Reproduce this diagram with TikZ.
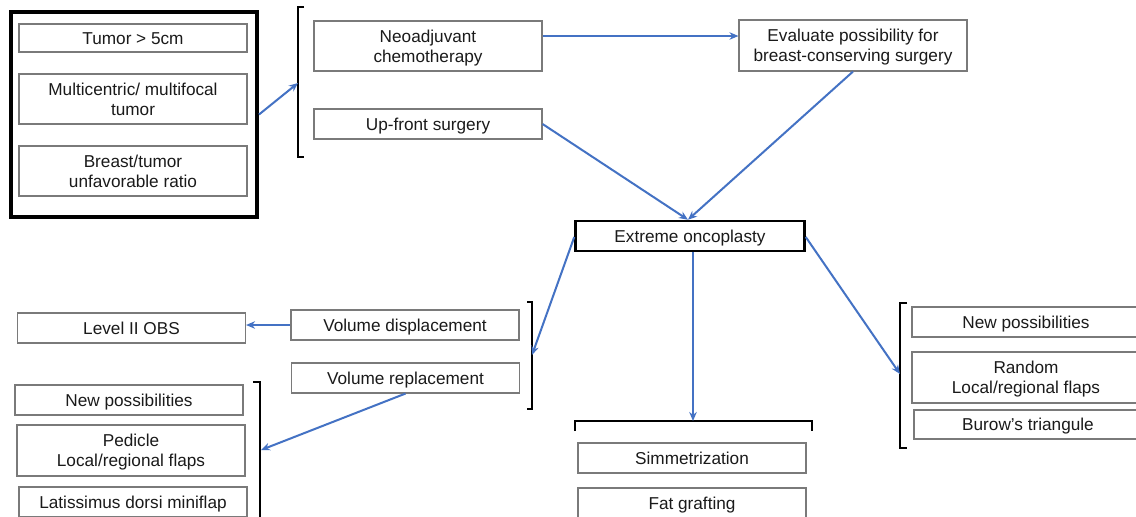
\documentclass[tikz,border=0pt]{standalone}
\usepackage{fontspec}
\setmainfont{Liberation Sans}
\usetikzlibrary{arrows.meta,calc}
\definecolor{boxgray}{HTML}{7A7A7A}
\definecolor{textcol}{HTML}{1A1A1A}
\definecolor{arrblue}{HTML}{4472C4}
\newcommand{\bxt}[1]{\raisebox{-2pt}[\height][\depth]{\begin{tabular}{@{}c@{}}#1\end{tabular}}}
\begin{document}
\begin{tikzpicture}[x=1pt,y=-1pt,
  box/.style={draw=boxgray,line width=1.1pt,minimum width=228pt,inner sep=0pt,
    font=\fontsize{17.2}{20}\selectfont,text=textcol},
  arr/.style={draw=arrblue,line width=2pt,-{Stealth[length=9pt,width=7.5pt]}},
  brk/.style={draw=black,line width=2.5pt}]
\useasboundingbox (0,0) rectangle (1136,517);
\clip (0,0) rectangle (1136,517);
\fill[white] (0,0) rectangle (1136,517);

% top-left group
\node[draw=black,line width=4pt,minimum width=246.5pt,minimum height=205pt,inner sep=0pt] (outer) at (133.75,114.5) {};
\node[box,minimum height=28pt] (t1) at (133,38) {\bxt{Tumor > 5cm}};
\node[box,minimum height=50pt] (t2) at (133,99) {\bxt{Multicentric/ multifocal\\tumor}};
\node[box,minimum height=50pt] (t3) at (133,171) {\bxt{Breast/tumor\\unfavorable ratio}};

% top middle
\node[box,minimum height=50pt] (neo) at (428,46) {\bxt{Neoadjuvant\\chemotherapy}};
\node[box,minimum height=30pt] (up) at (428,124) {\bxt{Up-front surgery}};
\node[box,minimum height=51pt] (eval) at (853,45.5) {\bxt{Evaluate possibility for\\breast-conserving surgery}};

% center
\node[box,draw=black,line width=2.5pt,minimum width=229pt,minimum height=30pt] (ext) at (690,236) {\bxt{Extreme oncoplasty}};

% left middle
\node[box,minimum height=30pt] (vd) at (405,325) {\bxt{Volume displacement}};
\node[box,minimum height=30pt] (vr) at (405.5,378) {\bxt{Volume replacement}};
\node[box,minimum height=30pt] (lvl) at (131.5,328) {\bxt{Level II OBS}};

% left bottom
\node[box,minimum height=30pt] (np1) at (129,400) {\bxt{New possibilities}};
\node[box,minimum height=51pt] (ped) at (131,450.5) {\bxt{Pedicle\\Local/regional flaps}};
\node[box,minimum height=30pt] (lat) at (133,502) {\bxt{Latissimus dorsi miniflap}};

% bottom center
\node[box,minimum height=30pt] (sim) at (692,458) {\bxt{Simmetrization}};
\node[box,minimum height=30pt] (fat) at (692,503) {\bxt{Fat grafting}};

% right
\node[box,minimum height=30pt] (np2) at (1026,322) {\bxt{New possibilities}};
\node[box,minimum height=51pt] (rnd) at (1026,377.5) {\bxt{Random\\Local/regional flaps}};
\node[box,minimum height=29pt] (bur) at (1028,424.5) {\bxt{Burow’s triangule}};

% brackets
\coordinate (b1m) at (298,83);
\coordinate (b2m) at (532,355);
\coordinate (b3m) at (261,450);
\coordinate (b4m) at (693,421);
\coordinate (b5m) at (900,374);
\draw[brk] (304,7) -- (298,7) -- (298,157) -- (304,157);
\draw[brk] (527,302) -- (532,302) -- (532,409) -- (527,409);
\draw[brk] (253,382) -- (260,382) -- (260,525);
\draw[brk] (575,431) -- (575,421) -- (812,421) -- (812,431);
\draw[brk] (907,303) -- (900,303) -- (900,448) -- (907,448);

% connectors
\draw[arr] (outer.east) -- (b1m);
\draw[arr] ([yshift=10pt]neo.east) coordinate (a1) -- (a1 -| eval.west);
\draw[arr] (up.east) -- ([xshift=-2pt]ext.north);
\draw[arr] (eval.south) -- ([xshift=-2pt]ext.north);
\draw[arr] ([yshift=-1pt]ext.west) -- (b2m);
\draw[arr] ([yshift=-1pt]ext.east) -- (b5m);
\draw[arr] ([xshift=3pt]ext.south) -- (b4m);
\draw[arr] (vd.west) -- (lvl.east |- vd.west);
\draw[arr] (vr.south) -- (b3m);
\end{tikzpicture}
\end{document}
